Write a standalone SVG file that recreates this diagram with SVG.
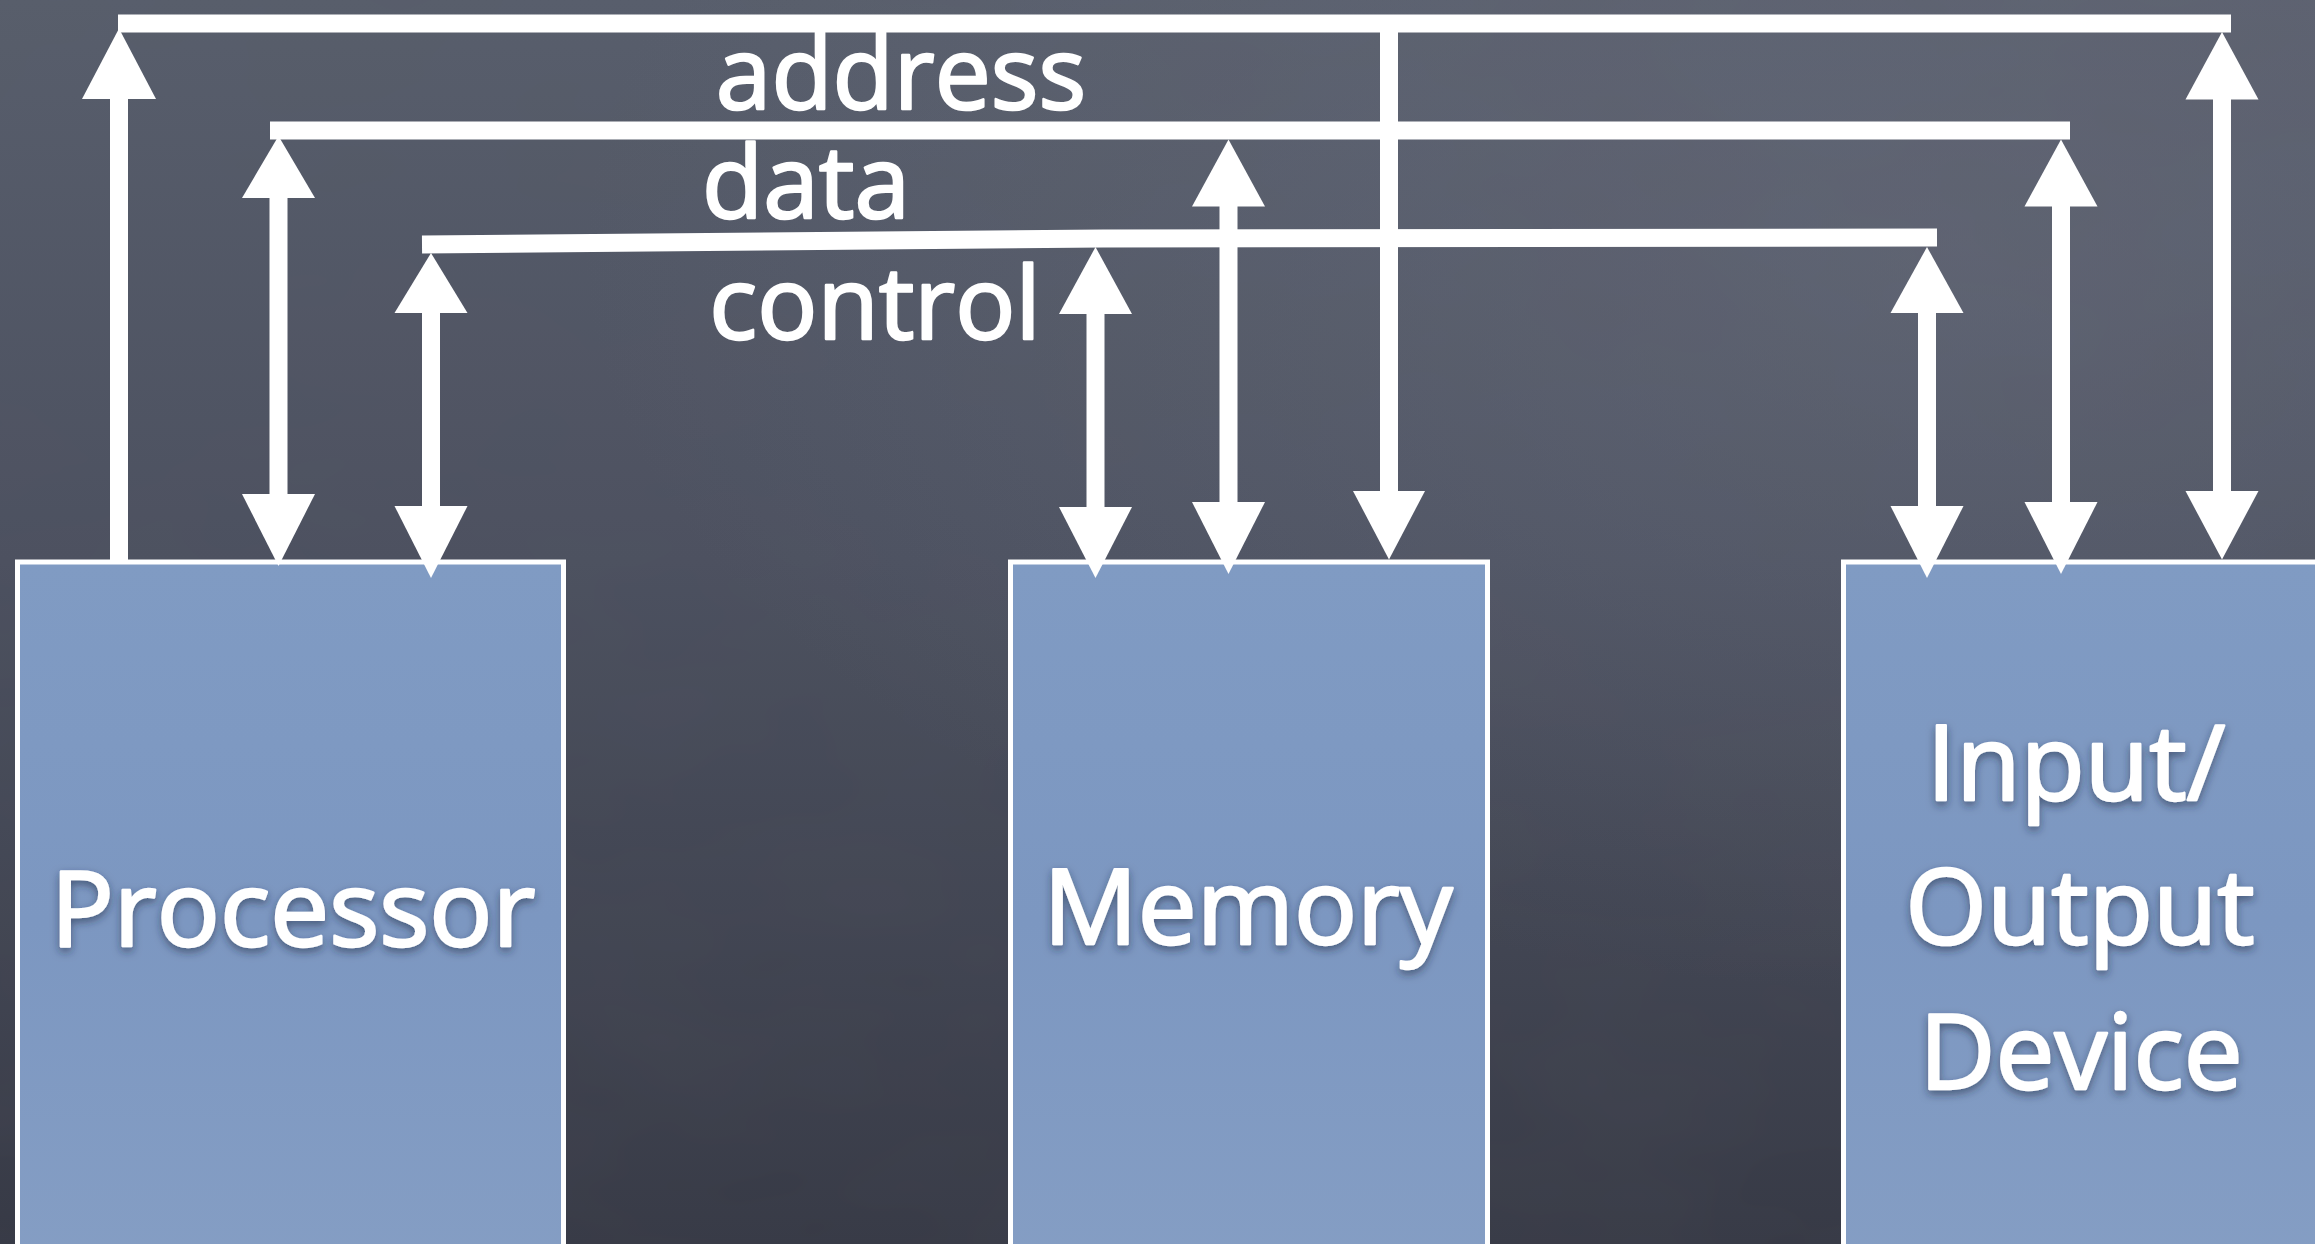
<svg xmlns="http://www.w3.org/2000/svg" width="2315" height="1244" viewBox="0 0 2315 1244">
  <defs>
    <linearGradient id="bgGrad" x1="0" y1="0" x2="0" y2="1">
      <stop offset="0" stop-color="#585e6c"/>
      <stop offset="0.45" stop-color="#4c5160"/>
      <stop offset="1" stop-color="#373a46"/>
    </linearGradient>
    <radialGradient id="bgLight" cx="0.85" cy="0.2" r="0.6">
      <stop offset="0" stop-color="#6b7080" stop-opacity="0.5"/>
      <stop offset="1" stop-color="#6b7080" stop-opacity="0"/>
    </radialGradient>
    <linearGradient id="boxGrad" x1="0" y1="0" x2="0" y2="1">
      <stop offset="0" stop-color="#809bc3"/>
      <stop offset="0.5" stop-color="#7c97c1"/>
      <stop offset="1" stop-color="#859ec4"/>
    </linearGradient>
    <filter id="cloud" x="0" y="0" width="100%" height="100%">
      <feTurbulence type="fractalNoise" baseFrequency="0.004 0.007" numOctaves="3" seed="11"/>
      <feColorMatrix type="matrix" values="0 0 0 0 0.1  0 0 0 0 0.1  0 0 0 0 0.12  0 0 0 0.22 -0.06"/>
    </filter>
    <filter id="shadow" x="-10%" y="-20%" width="120%" height="150%">
      <feDropShadow dx="0" dy="4" stdDeviation="4" flood-color="#1e2a40" flood-opacity="0.55"/>
    </filter>
    <style>
      .box { fill: url(#boxGrad); stroke: #ffffff; stroke-width: 5; }
      .bus { fill: none; stroke: #ffffff; stroke-width: 18; stroke-linecap: butt; }
      .stem { stroke: #ffffff; stroke-width: 18; }
      .head { fill: #ffffff; }
      .busLabel { font-family: "Open Sans", "Noto Sans", "DejaVu Sans", sans-serif; font-size: 100px; fill: #ffffff; stroke: #ffffff; stroke-width: 2.5; stroke-linejoin: round; text-anchor: middle; }
      .nodeLabel { font-family: "Open Sans", "Noto Sans", "DejaVu Sans", sans-serif; font-size: 105px; fill: #ffffff; stroke: #ffffff; stroke-width: 2.5; stroke-linejoin: round; text-anchor: middle; filter: url(#shadow); }
    </style>
  </defs>

  <!-- background -->
  <rect x="0" y="0" width="2315" height="1244" fill="url(#bgGrad)"/>
  <rect x="0" y="0" width="2315" height="1244" fill="url(#bgLight)"/>
  <rect x="0" y="0" width="2315" height="1244" filter="url(#cloud)"/>

  <!-- nodes -->
  <g id="processor">
    <rect class="box" x="17.5" y="562" width="546" height="720"/>
    <text class="nodeLabel" x="293" y="946">Processor</text>
  </g>
  <g id="memory">
    <rect class="box" x="1010.5" y="562" width="477" height="720"/>
    <text class="nodeLabel" x="1248" y="944">Memory</text>
  </g>
  <g id="io-device">
    <rect class="box" x="1843.5" y="562" width="520" height="720"/>
    <text class="nodeLabel" x="2076" y="800">Input/</text>
    <text class="nodeLabel" x="2080" y="944">Output</text>
    <text class="nodeLabel" x="2081" y="1089">Device</text>
  </g>

  <!-- connectors -->
  <g id="connectors">
    <!-- address bus -->
    <g id="address-bus">
      <line class="bus" x1="118" y1="23.5" x2="2231" y2="23.5"/>
      <line class="stem" x1="119" y1="96" x2="119" y2="562"/>
      <polygon class="head" points="119,28.5 82,99 156,99"/>
      <line class="stem" x1="1389" y1="23" x2="1389" y2="493"/>
      <polygon class="head" points="1389,559.5 1353,491 1425,491"/>
      <line class="stem" x1="2222" y1="97" x2="2222" y2="493"/>
      <polygon class="head" points="2222,32 2185.5,99.5 2258.5,99.5"/>
      <polygon class="head" points="2222,559.5 2185.5,491 2258.5,491"/>
    </g>
    <!-- data bus -->
    <g id="data-bus">
      <line class="bus" x1="270" y1="130.5" x2="2070" y2="130.5"/>
      <line class="stem" x1="278.5" y1="196" x2="278.5" y2="496"/>
      <polygon class="head" points="278.5,136 242,198 315,198"/>
      <polygon class="head" points="278.5,566 242,494 315,494"/>
      <line class="stem" x1="1228.5" y1="204" x2="1228.5" y2="504"/>
      <polygon class="head" points="1228.5,139.5 1192,206.5 1265,206.5"/>
      <polygon class="head" points="1228.5,574 1192,502 1265,502"/>
      <line class="stem" x1="2061" y1="204" x2="2061" y2="504"/>
      <polygon class="head" points="2061,139.5 2024.5,206.5 2097.5,206.5"/>
      <polygon class="head" points="2061,574 2024.5,502 2097.5,502"/>
    </g>
    <!-- control bus -->
    <g id="control-bus">
      <polyline class="bus" points="422,244.5 1103,238.5 1937,237.5"/>
      <line class="stem" x1="431" y1="311" x2="431" y2="508"/>
      <polygon class="head" points="431,253 394.5,313 467.5,313"/>
      <polygon class="head" points="431,578 394.5,506 467.5,506"/>
      <line class="stem" x1="1095.5" y1="312" x2="1095.5" y2="509"/>
      <polygon class="head" points="1095.5,247 1059,314 1132,314"/>
      <polygon class="head" points="1095.5,578 1059,507 1132,507"/>
      <line class="stem" x1="1927" y1="311" x2="1927" y2="508"/>
      <polygon class="head" points="1927,247 1890.5,313 1963.5,313"/>
      <polygon class="head" points="1927,578 1890.5,506 1963.5,506"/>
    </g>
  </g>

  <!-- bus labels -->
  <g id="bus-labels">
    <text class="busLabel" x="901" y="109">address</text>
    <text class="busLabel" x="806" y="218">data</text>
    <text class="busLabel" x="875" y="339">control</text>
  </g>
</svg>
